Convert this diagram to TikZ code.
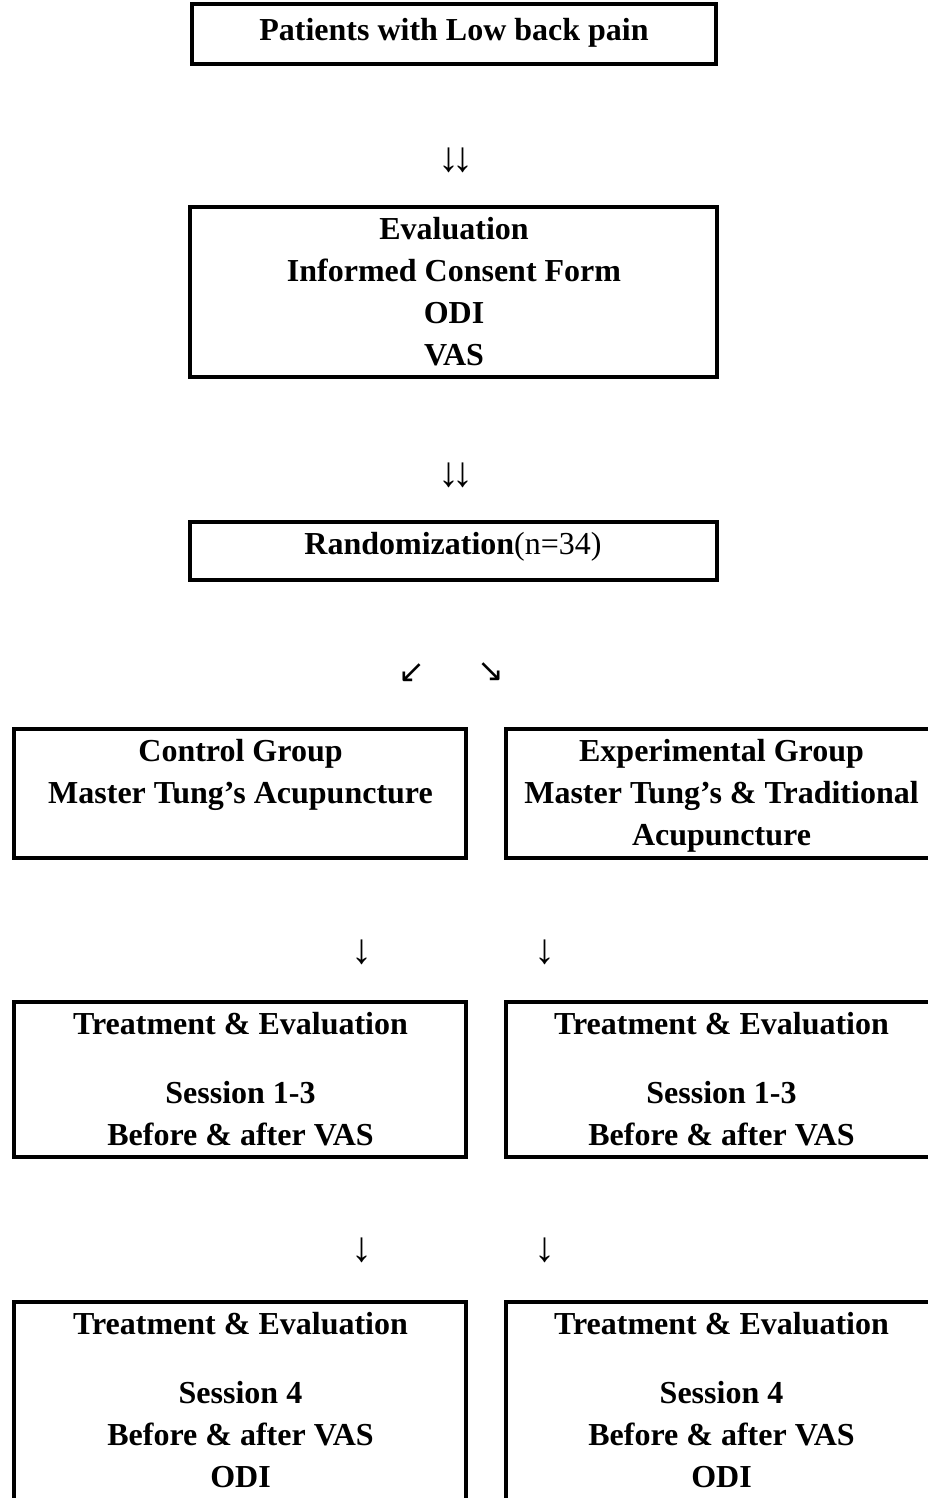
\documentclass[tikz,border=0pt]{standalone}
\usepackage{fontspec}
\setmainfont{Liberation Serif}
\newfontfamily\arrowfont{DejaVu Sans}

\tikzset{
  flowbox/.style={draw,line width=4pt,inner sep=0pt},
  boxtext/.style={font=\fontsize{32}{42}\selectfont\bfseries,align=center,inner sep=0pt,anchor=base},
  downarrow/.style={font=\fontsize{42}{50}\selectfont,inner sep=0pt},
  slantarrow/.style={font=\fontsize{32}{38}\selectfont\arrowfont,inner sep=0pt}
}

\begin{document}
\begin{tikzpicture}[x=1pt,y=-1pt]
  \useasboundingbox (0,0) rectangle (928,1498);
  \clip (0,0) rectangle (928,1498);

  % boxes
  \node[flowbox,minimum width=524pt,minimum height=60pt] (patients) at (454,34) {};
  \node[flowbox,minimum width=527pt,minimum height=170pt] (evaluation) at (453.5,292) {};
  \node[flowbox,minimum width=527pt,minimum height=58pt] (random) at (453.5,551) {};
  \node[flowbox,minimum width=452pt,minimum height=129pt] (control) at (240,793.5) {};
  \node[flowbox,minimum width=434pt,minimum height=129pt] (exper) at (723,793.5) {};
  \node[flowbox,minimum width=452pt,minimum height=155pt] (ctreatA) at (240,1079.5) {};
  \node[flowbox,minimum width=434pt,minimum height=155pt] (etreatA) at (723,1079.5) {};
  \node[flowbox,minimum width=452pt,minimum height=230pt] (ctreatB) at (240,1417) {};
  \node[flowbox,minimum width=434pt,minimum height=230pt] (etreatB) at (723,1417) {};

  % texts (placed by the baseline of their last line)
  \node[boxtext] (patientsT) at (454,41) {Patients with Low back pain};
  \node[boxtext] (evaluationT) at (454,365) {Evaluation\\Informed Consent Form\\ODI\\VAS};
  \node[boxtext] (randomT) at (453,554) {Randomization\textmd{(n=34)}};
  \node[boxtext] (controlT) at (240.5,803) {Control Group\\Master Tung’s Acupuncture};
  \node[boxtext] (experT) at (721.5,845) {Experimental Group\\Master Tung’s \& Traditional\\Acupuncture};
  \node[boxtext] (ctreatAT) at (240.5,1145) {Treatment \& Evaluation\\[27pt]Session 1-3\\Before \& after VAS};
  \node[boxtext] (etreatAT) at (721.5,1145) {Treatment \& Evaluation\\[27pt]Session 1-3\\Before \& after VAS};
  \node[boxtext] (ctreatBT) at (240.5,1487) {Treatment \& Evaluation\\[27pt]Session 4\\Before \& after VAS\\ODI};
  \node[boxtext] (etreatBT) at (721.5,1487) {Treatment \& Evaluation\\[27pt]Session 4\\Before \& after VAS\\ODI};

  % arrows (as printed glyphs)
  \node[downarrow] (arrA) at (456,160) {↓\kern-7pt↓};
  \node[downarrow] (arrB) at (456,475) {↓\kern-7pt↓};
  \node[slantarrow] (arrL) at (412,673) {↙};
  \node[slantarrow] (arrR) at (491,672) {↘};
  \node[downarrow] (arrC) at (362,952) {↓};
  \node[downarrow] (arrD) at (545,952) {↓};
  \node[downarrow] (arrE) at (362,1250) {↓};
  \node[downarrow] (arrF) at (545,1250) {↓};
\end{tikzpicture}
\end{document}
